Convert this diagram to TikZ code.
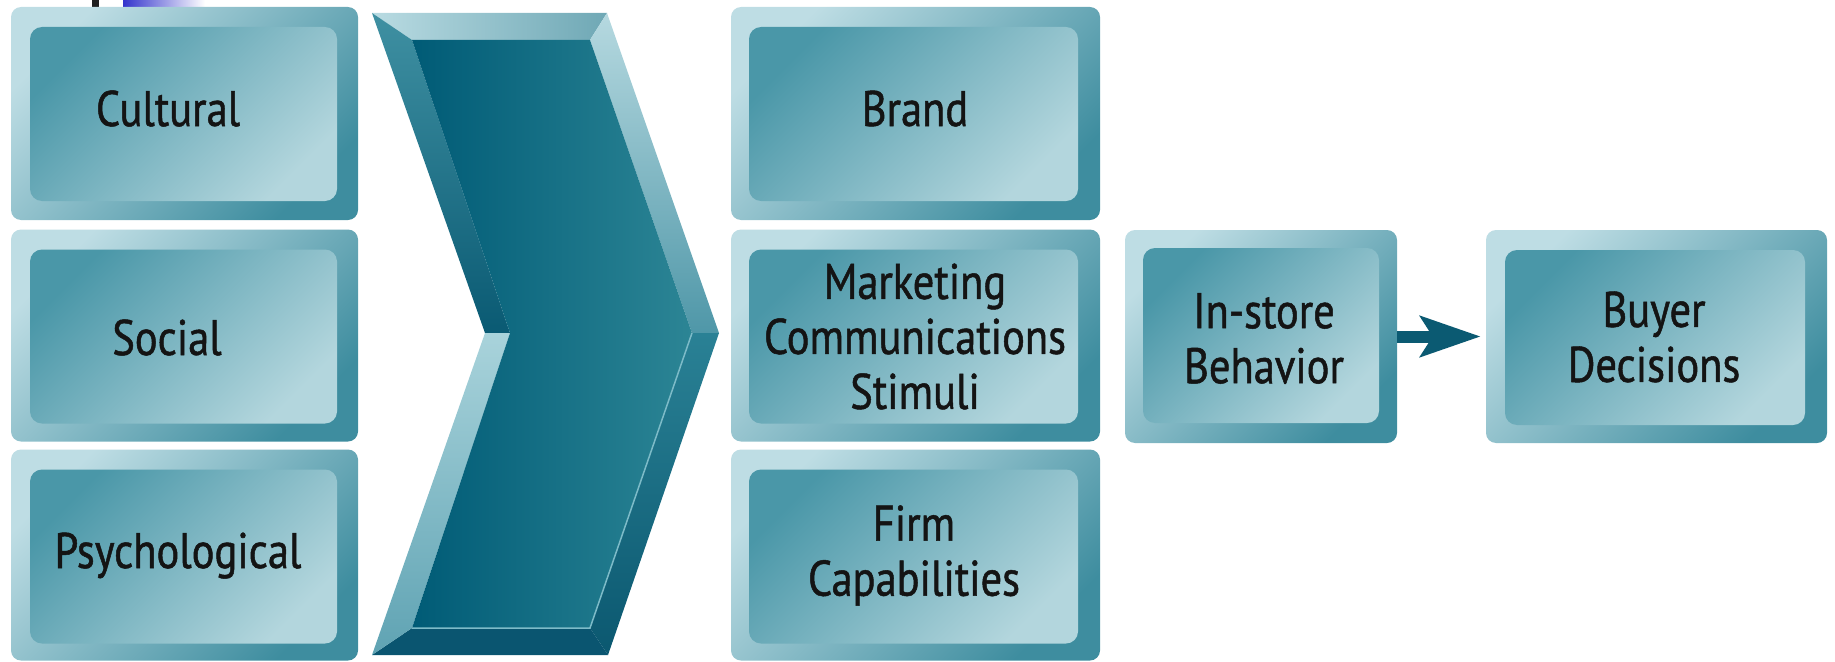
\documentclass[tikz,border=0pt]{standalone}
\usepackage{fontspec}
\newfontfamily\boxfont[FakeStretch=0.85, FakeBold=1]{PT Sans}
\usetikzlibrary{arrows.meta}

\definecolor{frameLight}{HTML}{BEDDE4}
\definecolor{frameDark}{HTML}{3E8D9F}
\definecolor{faceDark}{HTML}{4A97A8}
\definecolor{faceLight}{HTML}{B3D6DD}
\definecolor{arrowTeal}{HTML}{0B5A72}
\definecolor{bulletBlue}{HTML}{3434CC}
% chevron bevel colours
\definecolor{bevTopL}{HTML}{B9DBE2}
\definecolor{bevTopR}{HTML}{6FA8B5}
\definecolor{bevLUtop}{HTML}{3F90A2}
\definecolor{bevLUbot}{HTML}{0A5A73}
\definecolor{bevRUtop}{HTML}{B6D9E0}
\definecolor{bevRUbot}{HTML}{4F97A8}
\definecolor{bevRLtop}{HTML}{2A8195}
\definecolor{bevRLbot}{HTML}{0B5870}
\definecolor{bevBot}{HTML}{0A5570}
\definecolor{bevLLtop}{HTML}{A9D3DB}
\definecolor{bevLLbot}{HTML}{5FA3B3}
\definecolor{chevL}{HTML}{005B76}
\definecolor{chevR}{HTML}{2C8595}
\definecolor{chevEdge}{HTML}{7DBBC8}

\begin{document}
\begin{tikzpicture}[x=1pt,y=-1pt,
  frame/.style={rounded corners=10pt, inner sep=0pt,
    top color=frameLight, bottom color=frameDark, shading angle=45},
  face/.style={rounded corners=12pt, inner sep=0pt,
    top color=faceDark, bottom color=faceLight, shading angle=45},
  lbl/.style={font=\boxfont\fontsize{50}{55}\selectfont, text=black!92,
    inner sep=0pt, align=center},
  flow/.style={arrowTeal, line width=12pt,
    -{Stealth[length=60pt, width=40pt, inset=12pt]}}
]
\useasboundingbox (0,0) rectangle (1835,661);

% slide remnants along the top edge
\fill[black!88] (92,0) rectangle (99,7);
\shade[left color=bulletBlue, right color=white] (123,0) rectangle (205,7);

% ---- left column: influences ----
\node[frame, minimum width=347pt, minimum height=213pt] (culF) at (184.5,113.5) {};
\node[face,  minimum width=307pt, minimum height=174pt] (culI) at (183.5,114) {};
\node[lbl, anchor=base] (cul) at (168,126) {Cultural};

\node[frame, minimum width=347pt, minimum height=212pt] (socF) at (184.5,335.5) {};
\node[face,  minimum width=307pt, minimum height=174pt] (socI) at (183.5,336.5) {};
\node[lbl, anchor=base] (soc) at (167,355) {Social};

\node[frame, minimum width=347pt, minimum height=211pt] (psyF) at (184.5,555) {};
\node[face,  minimum width=307pt, minimum height=174pt] (psyI) at (183.5,556.5) {};
\node[lbl, anchor=base] (psy) at (178,568) {Psychological};

% ---- bevelled chevron ----
\coordinate (o1) at (372,13);  \coordinate (o2) at (607,13);
\coordinate (o3) at (719,333); \coordinate (o4) at (608,655);
\coordinate (o5) at (372,655); \coordinate (o6) at (485,333);
\coordinate (i1) at (412,40);  \coordinate (i2) at (590,40);
\coordinate (i3) at (692,333); \coordinate (i4) at (590,628);
\coordinate (i5) at (412,628); \coordinate (i6) at (510,333);

\shade[left color=bevTopL, right color=bevTopR] (o1) -- (o2) -- (i2) -- (i1) -- cycle;
\shade[top color=bevLUtop, bottom color=bevLUbot] (o1) -- (i1) -- (i6) -- (o6) -- cycle;
\shade[top color=bevRUtop, bottom color=bevRUbot] (o2) -- (o3) -- (i3) -- (i2) -- cycle;
\shade[top color=bevRLtop, bottom color=bevRLbot] (o3) -- (o4) -- (i4) -- (i3) -- cycle;
\fill[bevBot] (o4) -- (o5) -- (i5) -- (i4) -- cycle;
\shade[top color=bevLLtop, bottom color=bevLLbot] (o6) -- (i6) -- (i5) -- (o5) -- cycle;
\shade[left color=chevL, right color=chevR] (i1) -- (i2) -- (i3) -- (i4) -- (i5) -- (i6) -- cycle;
\draw[chevEdge, line width=1.5pt] (i3) -- (i4) -- (i5);

% ---- middle column: stimuli ----
\node[frame, minimum width=369pt, minimum height=213pt] (brnF) at (915.5,113.5) {};
\node[face,  minimum width=329pt, minimum height=174pt] (brnI) at (913.5,114) {};
\node[lbl, anchor=base] (brn) at (915,126) {Brand};

\node[frame, minimum width=369pt, minimum height=212pt] (mktF) at (915.5,335.5) {};
\node[face,  minimum width=329pt, minimum height=174pt] (mktI) at (913.5,336.5) {};
\node[lbl] (mkt) at (915,336.5) {Marketing\\Communications\\Stimuli};

\node[frame, minimum width=369pt, minimum height=211pt] (frmF) at (915.5,555) {};
\node[face,  minimum width=329pt, minimum height=174pt] (frmI) at (913.5,556.5) {};
\node[lbl] (frm) at (914,555.5) {Firm\\Capabilities};

% ---- right: behaviour and decisions ----
\node[frame, minimum width=272pt, minimum height=213pt] (insF) at (1261,336.5) {};
\node[face,  minimum width=236pt, minimum height=175pt] (insI) at (1261,335.5) {};
\node[lbl] (ins) at (1264,338.5) {In-store\\Behavior};

\node[frame, minimum width=341pt, minimum height=213pt] (buyF) at (1656.5,336.5) {};
\node[face,  minimum width=300pt, minimum height=175pt] (buyI) at (1655,337.5) {};
\node[lbl] (buy) at (1654,337) {Buyer\\Decisions};

\draw[flow] (insF.east) -- ([xshift=-5pt]buyF.west);
\end{tikzpicture}
\end{document}
